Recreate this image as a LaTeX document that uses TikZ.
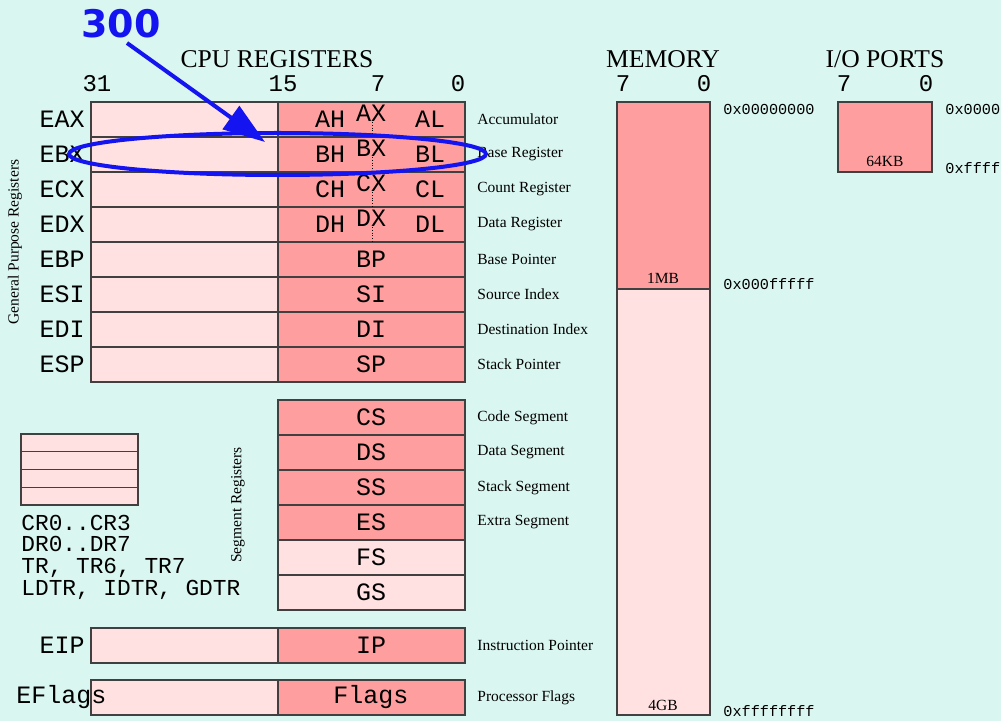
\documentclass[tikz,border=0pt]{standalone}
\usepackage{fontspec}
\setmainfont{Liberation Serif}
\setmonofont{Liberation Mono}
\newfontfamily\notefont{DejaVu Sans}
\usepackage{tikz}
\usetikzlibrary{arrows.meta,shapes.geometric}
\definecolor{bg}{RGB}{218,246,240}
\definecolor{lo}{RGB}{255,225,225}
\definecolor{hi}{RGB}{255,158,158}
\definecolor{ink}{RGB}{20,20,240}

\begin{document}
\begin{tikzpicture}[x=0.5pt,y=-0.5pt,
  reg/.style={draw=black!75,line width=0.6pt},
  nm/.style={font=\fontsize{12.5}{12.5}\selectfont\ttfamily,inner sep=0pt},
  bit/.style={font=\fontsize{12}{12}\selectfont\ttfamily,inner sep=0pt},
  crs/.style={font=\fontsize{11.4}{11.4}\selectfont\ttfamily,inner sep=0pt,anchor=base west},
  desc/.style={font=\fontsize{7.75}{8}\selectfont,inner sep=0pt,anchor=west},
  addr/.style={font=\fontsize{7.6}{8}\selectfont\ttfamily,inner sep=0pt,anchor=west},
  ttl/.style={font=\fontsize{12.8}{13}\selectfont,inner sep=0pt}]
\fill[bg](0,0)rectangle(1001,721);
\useasboundingbox(0,0)rectangle(1001,721);

% titles and bit numbers
\node[ttl](cpu) at (277,59){CPU REGISTERS};
\node[ttl](mem) at (663,59){MEMORY};
\node[ttl](io) at (885,59){I/O PORTS};
\foreach \b/\x in {31/97,15/283,7/378,0/458,7/623,0/704,7/844,0/926}
  \node[bit](bit\x) at (\x,84){\b};

% general purpose registers
\foreach \r/\s/\d [count=\i from 0] in {EAX//Accumulator,EBX//Base Register,ECX//Count Register,EDX//Data Register,EBP/BP/Base Pointer,ESI/SI/Source Index,EDI/DI/Destination Index,ESP/SP/Stack Pointer}{
  \pgfmathsetmacro\yy{102+35*\i}
  \filldraw[reg,fill=lo](91,\yy)rectangle(278,\yy+35);
  \filldraw[reg,fill=hi](278,\yy)rectangle(465,\yy+35);
  \node[nm,anchor=east](\r) at (85,\yy+17.5){\r};
  \node[nm](\r-lo) at (371,\yy+17.5){\s};
  \node[desc](\r-d) at (477,\yy+17.5){\d};
}
\foreach \p [count=\i from 0] in {A,B,C,D}{
  \pgfmathsetmacro\yy{102+35*\i}
  \node[nm](\p H) at (330,\yy+17.5){\p H};
  \node[nm](\p X) at (371,\yy+11){\p X};
  \node[nm](\p L) at (430,\yy+17.5){\p L};
  \draw[densely dotted,line width=0.4pt](372,\yy+20)--(372,\yy+35);
}
\node[desc,rotate=90,anchor=center](gpr) at (15,242){General Purpose Registers};

% segment registers
\foreach \r/\c/\d [count=\i from 0] in {CS/hi/Code Segment,DS/hi/Data Segment,SS/hi/Stack Segment,ES/hi/Extra Segment,FS/lo/,GS/lo/}{
  \pgfmathsetmacro\yy{400+35*\i}
  \filldraw[reg,fill=\c](278,\yy)rectangle(465,\yy+35);
  \node[nm](\r) at (371,\yy+17.5){\r};
  \node[desc](\r-d) at (477,\yy+17.5){\d};
}
\node[desc,rotate=90,anchor=center](sgr) at (238,505){Segment Registers};

% control registers
\foreach \i in {0,...,3}
  \filldraw[reg,fill=lo](21,434+17.75*\i)rectangle(138,434+17.75*\i+17.75);
\node[crs](cr) at (21,530){CR0..CR3};
\node[crs](dr) at (21,551){DR0..DR7};
\node[crs](tr) at (21,573){TR, TR6, TR7};
\node[crs](dt) at (21,595){LDTR, IDTR, GDTR};

% instruction pointer and flags
\filldraw[reg,fill=lo](91,628)rectangle(278,663);
\filldraw[reg,fill=hi](278,628)rectangle(465,663);
\node[nm,anchor=east](EIP) at (85,645.5){EIP};
\node[nm](IP) at (371,645.5){IP};
\node[desc](IP-d) at (477,645.5){Instruction Pointer};
\filldraw[reg,fill=lo](91,680)rectangle(278,715);
\filldraw[reg,fill=hi](278,680)rectangle(465,715);
\node[nm,anchor=west](EFlags) at (16,697.5){EFlags};
\node[nm](Flags) at (371,697.5){Flags};
\node[desc](Flags-d) at (477,697.5){Processor Flags};

% memory
\filldraw[reg,fill=hi](617,102)rectangle(710,289);
\filldraw[reg,fill=lo](617,289)rectangle(710,715);
\node[desc,anchor=center](mb) at (663,278){1MB};
\node[desc,anchor=center](gb) at (663,705){4GB};
\node[addr](a0) at (723,109){0x00000000};
\node[addr](a1) at (723,284){0x000fffff};
\node[addr](a2) at (723,711){0xffffffff};

% i/o ports
\filldraw[reg,fill=hi](838,102)rectangle(932,172);
\node[desc,anchor=center](kb) at (885,161){64KB};
\node[addr](p0) at (945,109){0x0000};
\node[addr](p1) at (945,168){0xffff};

% note
\node[text=ink,inner sep=0pt,font=\notefont\bfseries\fontsize{19}{19}\selectfont](n300) at (121,24){300};
\node[ellipse,draw=ink,line width=2pt,minimum width=208.5pt,minimum height=21pt,inner sep=0pt](ring) at (277.5,154){};
\coordinate (tail) at (127,43);
\coordinate (tip) at (265,142);
\draw[ink,line width=2pt,-{Triangle[length=21pt,width=14pt]}](tail)--(tip);
\end{tikzpicture}
\end{document}
